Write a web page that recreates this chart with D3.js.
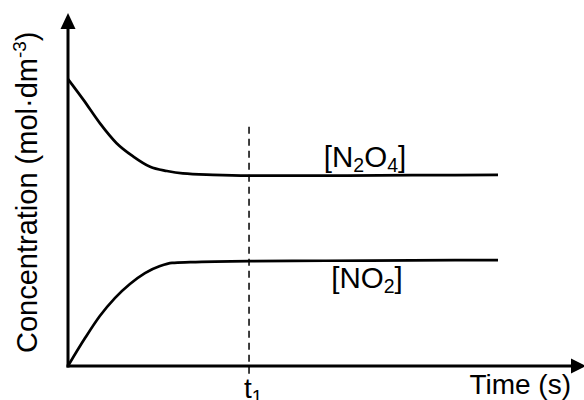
<!DOCTYPE html>
<html><head><meta charset="utf-8">
<script src="https://cdn.jsdelivr.net/npm/d3@7/dist/d3.min.js"></script>
<style>html,body{margin:0;padding:0;background:#fff;}svg{display:block;}</style>
</head><body>
<script>
// Data (time in arbitrary units, concentration in arbitrary units)
const timeN2O4 = [0, 0.36, 0.74, 1.13, 1.52, 1.91, 2.30, 2.67, 3.37, 4.21, 6.0, 8.0, 10];
const concN2O4 = [8.15, 7.56, 6.90, 6.33, 5.95, 5.66, 5.54, 5.47, 5.43, 5.41, 5.41, 5.42, 5.43];
const timeNO2  = [0, 0.40, 0.74, 1.09, 1.44, 1.79, 2.14, 2.42, 2.84, 4.21, 6.0, 8.0, 10];
const concNO2  = [0, 0.80, 1.42, 1.93, 2.33, 2.64, 2.84, 2.93, 2.95, 2.98, 2.99, 3.00, 3.01];
const t1 = 4.21;

const W = 584, H = 400;
const x = d3.scaleLinear().domain([0, 12]).range([68, 584]);
const y = d3.scaleLinear().domain([0, 10]).range([366, 14]);

const svg = d3.select("body").append("svg").attr("width", W).attr("height", H);
const font = "'Liberation Sans', Arial, sans-serif";

// dashed t1 line
svg.append("line")
  .attr("x1", x(t1)).attr("x2", x(t1))
  .attr("y1", y(6.8)).attr("y2", y(-0.27))
  .attr("stroke", "#000").attr("stroke-width", 1.5)
  .attr("stroke-dasharray", "7,5");

// curves
const line = d3.line().x(d => x(d[0])).y(d => y(d[1])).curve(d3.curveMonotoneX);
svg.append("path").datum(timeN2O4.map((t, i) => [t, concN2O4[i]]))
  .attr("d", line).attr("fill", "none").attr("stroke", "#000").attr("stroke-width", 2.7);
svg.append("path").datum(timeNO2.map((t, i) => [t, concNO2[i]]))
  .attr("d", line).attr("fill", "none").attr("stroke", "#000").attr("stroke-width", 2.7);

// axes with arrows
const x0 = x(0), y0 = y(0);
svg.append("line").attr("x1", x0).attr("x2", x0).attr("y1", y0 + 1.5).attr("y2", 28)
  .attr("stroke", "#000").attr("stroke-width", 3);
svg.append("path").attr("d", `M${x0},13 L${x0 - 7.5},29 L${x0 + 7.5},29 Z`).attr("fill", "#000");
svg.append("line").attr("x1", x0 - 1.5).attr("x2", 573).attr("y1", y0).attr("y2", y0)
  .attr("stroke", "#000").attr("stroke-width", 3);
svg.append("path").attr("d", `M586,${y0} L571,${y0 - 7.5} L571,${y0 + 7.5} Z`).attr("fill", "#000");

// series labels
const l1 = svg.append("text").attr("x", 365).attr("y", 167).attr("text-anchor", "middle")
  .style("font-family", font).style("font-size", "29.5px");
l1.append("tspan").text("[N");
l1.append("tspan").attr("dy", 5).style("font-size", "19.5px").text("2");
l1.append("tspan").attr("dy", -5).text("O");
l1.append("tspan").attr("dy", 5).style("font-size", "19.5px").text("4");
l1.append("tspan").attr("dy", -5).text("]");

const l2 = svg.append("text").attr("x", 367).attr("y", 288).attr("text-anchor", "middle")
  .style("font-family", font).style("font-size", "29.5px");
l2.append("tspan").text("[NO");
l2.append("tspan").attr("dy", 5).style("font-size", "19.5px").text("2");
l2.append("tspan").attr("dy", -5).text("]");

// t1 label
const tl = svg.append("text").attr("x", x(t1) - 5).attr("y", 398)
  .style("font-family", font).style("font-size", "28px");
tl.append("tspan").text("t");
tl.append("tspan").attr("dy", 5).style("font-size", "19px").text("1");

// axis titles
svg.append("text").attr("x", 571).attr("y", 394).attr("text-anchor", "end")
  .style("font-family", font).style("font-size", "28px").text("Time (s)");

const yl = svg.append("text").attr("transform", "translate(37,353) rotate(-90)")
  .style("font-family", font).style("font-size", "29px");
yl.append("tspan").text("Concentration (mol·dm");
yl.append("tspan").attr("dy", -11).style("font-size", "19px").text("-3");
yl.append("tspan").attr("dy", 11).text(")");
</script>
</body></html>
